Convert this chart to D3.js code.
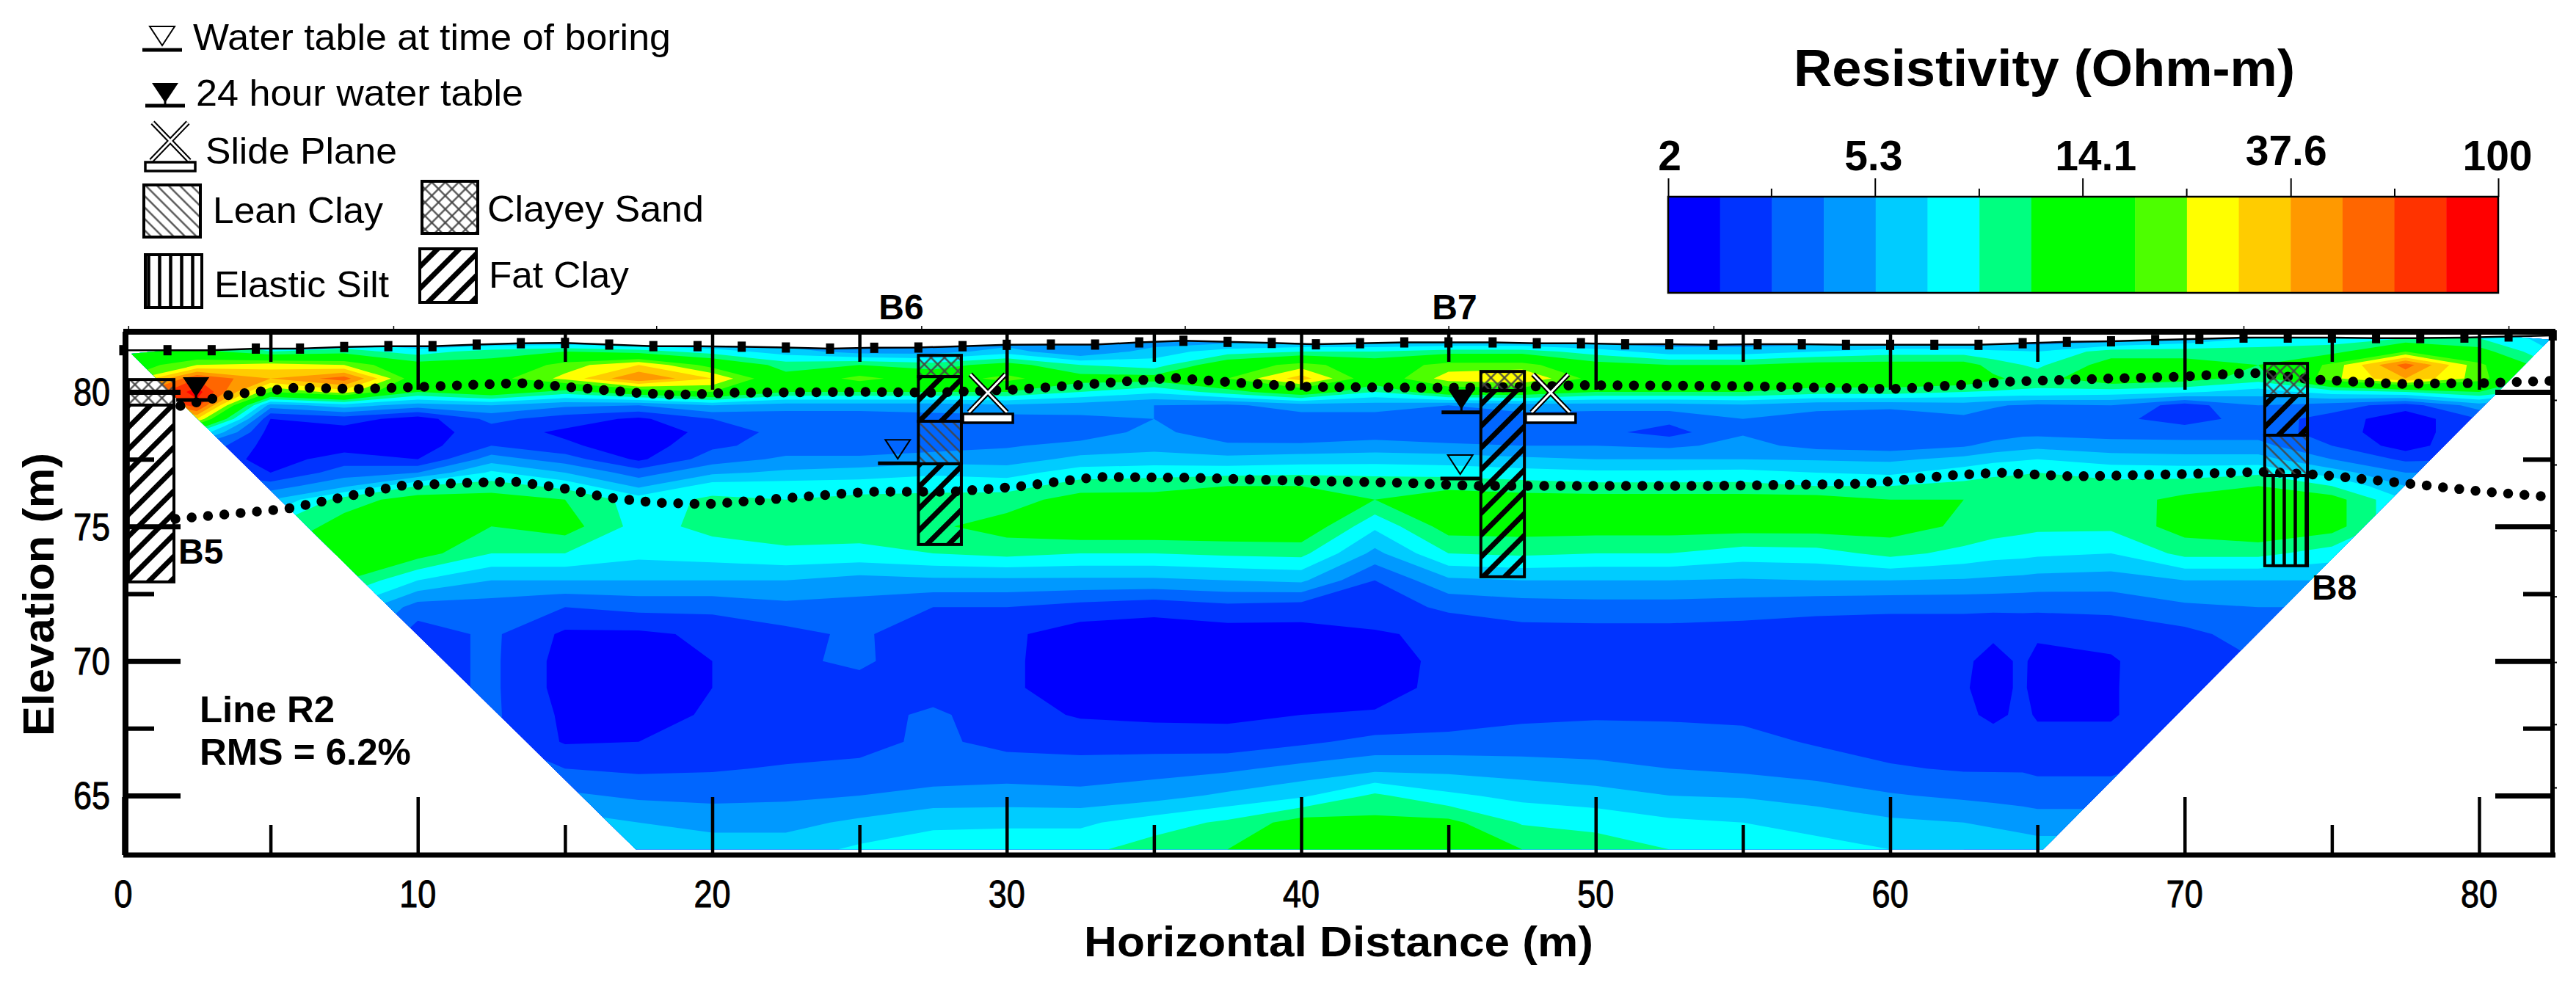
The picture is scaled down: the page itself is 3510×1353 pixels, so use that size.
<!DOCTYPE html>
<html>
<head>
<meta charset="utf-8">
<style>
  body { margin: 0; background: #fff; }
  text { font-family: "Liberation Sans", Arial, sans-serif; fill: #000; }
  .axis .domain { display: none; }
  .axis line { stroke: #000; }
</style>
<script src="https://cdn.jsdelivr.net/npm/d3@7"></script>
</head>
<body>
<svg id="chart" width="3510" height="1353"></svg>
<script>
// band colours of the resistivity scale, low to high
const bandColors = ['#0000ff', '#0033ff', '#0066ff', '#0099ff', '#00ccff', '#00ffff', '#00ff80', '#00ff00',
    '#00ff00', '#4dff00', '#ffff00', '#ffcc00', '#ff9900', '#ff6600', '#ff3300', '#ff0000'];
const scaleLabels = [2, 5.3, 14.1, 37.6, 100];
const scaleMinor = [3.25, 8.65, 23, 61.3];

// section grid, values are band numbers
const gridDistances = [0, 2.5, 5, 7.5, 10, 12.5, 15, 17.5, 20, 22.5, 25, 27.5, 30, 32.5, 35, 37.5, 40, 42.5,
    45, 47.5, 50, 52.5, 55, 57.5, 60, 62.5, 63.5, 64.5, 65, 67.5, 70, 72.5, 75, 77.5, 80, 82.5];
const gridElevations = [82, 81.5, 81, 80.5, 80, 79.5, 79, 78.5, 78, 77.5, 77, 76.5, 76, 75, 74, 73, 72, 71, 70,
    69, 68, 67, 66, 65, 64, 63];
const gridColumns = [
    [6,7.5,8,9,12,11,8,5,3,3,3,4,5,6.5,7,6,5,4,3,2,1,1,2,3,4,5],
    [6,7.5,10,14,15.5,14.5,11,6,3,2,2,3,4,6,7,6,5,4,3,2,1,1,2,3,4,5],
    [4,6,10.5,12,9,3.5,1,.5,.5,.5,1,2.5,4,6,7,6,5,4,3,2,1,1,2,3,4,5],
    [4,6.5,10,13.5,10.5,4.5,1.5,.5,.5,1.5,2.5,3.8,6.5,7.5,7.5,7,5,4,3,2,1,1,2,3,4,5],
    [3,5.5,7.5,8,7,3.5,.5,.5,.5,1,3,6,7.5,7.5,7.5,5,2.5,1.5,1.5,1.5,1.5,1.8,2.5,3.5,4.5,5],
    [3,6.5,7.5,8.5,8,4,2.3,1.5,2,3.5,5.2,6.5,7.5,7,6,4,2.5,2.2,2.2,2.2,2.2,2.2,2.5,3.5,4.5,5],
    [3,7,9.5,10.3,6.5,3.2,1.5,.8,1.2,2.5,4,5.7,7,7.5,6,4,2,.8,.6,.6,.8,.9,2,3.2,4.5,5],
    [3,6.5,11,13,8,3,.8,.4,.4,.8,2.5,3.8,5.5,5.6,5.3,4,2.3,.8,.3,.3,.4,1,1.8,2.8,4,4.5],
    [3,5.5,8.5,11,9,4,2,1.3,1.8,2.5,3.8,5.5,6.2,6.3,5.5,4,2.3,1.2,1,1,1.2,1.5,1.9,2.7,3.7,4.5],
    [3,4.5,6.5,7.5,7,3.5,2.3,2.4,2.4,3.2,4.2,5.5,6,6.5,5.8,4,2.7,1.7,1.8,1.6,1.6,1.5,2.1,2.8,3.7,4.5],
    [3,3.5,7,9.5,7,3.5,2.3,2.5,2.4,3.2,4.5,5.5,6.3,6.5,5.7,3.6,2.6,2.2,2.2,1.6,1.6,1.7,2.2,3,4.2,5.2],
    [3,3.5,6.5,8,7,3.5,2.6,2.4,2.5,3.6,4.8,5.7,6.3,6.8,6,3.8,2,1.2,1.3,1.5,2.2,2.2,2.4,3.3,4.8,5.5],
    [3,4.5,7.5,9.5,7,3.8,2.6,2.6,2.9,3.5,4.6,5.6,6.5,7.5,6.3,3.8,2,1.2,1.2,1.2,1.4,1.7,2.5,3.4,4.8,5.7],
    [3,3,6,7.5,6,3.5,2.8,2.5,3.3,4.3,5.5,6.5,7.5,8,6,3.8,1.6,.5,.4,.4,.9,1.6,2.4,3.3,4.8,5.7],
    [3,4.5,5.5,7.5,5.2,3,3,3.3,3.6,4.5,5.6,6.6,7.5,8,6,3.8,1.3,.5,.3,.3,.8,1.5,2.6,3.6,5.5,6.5],
    [3,5.5,8,9,6.5,2.8,2.3,2.3,3.2,4.3,5.7,7,7.5,8,6.2,4,1.7,.5,.3,.3,.8,1.4,2.8,4.2,6.2,7],
    [3,6,9.5,11.5,8,3.5,2.5,2.2,3.2,4.5,5.8,7,7.5,8,6.3,4.2,1.5,.6,.3,.3,1,1.8,3.3,4.8,7.5,8],
    [3,6,8,8,6,3.5,2.5,2.5,3.4,4.6,5.7,6.8,7,5.2,3.7,2,1.5,.9,.5,.6,1.1,2.3,3.7,6.2,7.3,8],
    [3,6.5,9.5,10.5,8,3,2.5,2.2,3.2,4.5,5.6,6.8,7.5,7.5,6,3.8,2.2,1.2,1.3,1.3,1.5,2.3,3.7,5.2,7.3,8],
    [3,6.5,9.5,11,8,3.5,2.5,2.3,3,4.2,5.4,6.5,7.5,7.5,6.2,4,2.5,1.6,1.2,1.2,1.8,2.4,3.5,4.7,5.9,7],
    [3,5.5,7.5,8.5,7,3.5,2.3,2.3,3,4,5.2,6.3,7.5,7.5,6,4,2.6,1.6,1.3,1.3,1.9,2.4,3.3,4.4,5.7,6.5],
    [3,4.5,7,9,7,3.5,2.3,1.6,2.8,4,5.2,6.3,7.5,7.5,6,4,2.6,1.6,1.3,1.3,1.9,2.3,3,4,5.2,6],
    [3,4.5,7,7.5,7,3.8,3,2.9,3.3,4,5.3,6.3,7.5,7.5,5.5,3.9,2.5,1.5,1.3,1.3,1.8,2.3,2.8,3.9,5,5.8],
    [3,5,7.5,8,6.5,3.3,2.6,2.3,2.7,3.9,5,6,7.5,7.5,5.6,4,2.3,1.4,1.4,1.4,1.4,1.9,2.5,3.6,4.6,5.4],
    [3,5.5,7.5,8,6.5,3.2,2.5,2.3,2.5,3.8,4.8,6,7,7.5,6.3,4,2.2,1.4,1.4,1.3,1.3,1.6,2.1,3.1,4.2,5],
    [3,5.5,7.5,8,6,3.5,2.8,2.3,2.9,4.3,5.5,6.3,7,6.8,5.7,3.9,2.2,1.4,1.2,1.1,1.2,1.4,1.9,2.8,4,5],
    [3,5.2,6.6,7.2,5.9,3.1,2.6,2.5,3.3,4.7,5.8,6.4,6.8,6.5,5.4,3.8,2.2,1.2,.6,.6,.8,1.4,1.9,2.7,3.8,4.8],
    [3,5.1,6,6.7,5.8,2.9,2.5,2.7,3.6,4.9,5.9,6.5,6.6,6.3,5.3,3.7,2.2,1.3,1.2,1.2,1.2,1.4,1.9,2.6,3.6,4.6],
    [3,5,5.8,6.5,5.8,2.8,2.5,2.7,3.7,5,6,6.5,6.5,6.2,5.2,3.6,2.2,1.2,.6,.5,.9,1.3,1.8,2.5,3.5,4.5],
    [3,6.5,7.5,8,5.5,3,2.3,2.6,3.4,4.5,5.7,6.3,6.5,6.2,5,3.5,2.3,1.3,.9,.9,.9,1.3,1.8,2.5,3.5,4.5],
    [4,6.5,7.5,7.5,5.2,1.5,1.5,2.6,3.3,4.4,5.6,6.5,7.3,7.5,6.3,4,2.8,1.7,1.7,1.8,1.8,2,2.5,3,4,5],
    [5,6.5,7,6.5,4.5,3,2.5,2.6,3.3,4.4,5.8,7,7.8,8,6.3,4,3,2.5,2,2,2,2,2.5,3,4,5],
    [5.5,6.5,9.3,9.7,5.5,2.5,1.6,1.5,2,3,4.5,6,7.5,7.5,5.5,4,3,2.5,2,2,2,2,2.5,3,4,5],
    [6,9,13.5,12,6,1.5,.3,.3,.5,1.8,3,4,5,5,5,4,3,2.5,2,2,2,2,2.5,3,4,5],
    [6,7.5,9.3,9.5,7,3.5,2,2,2,2,3,4,5,5,5,4,3,2.5,2,2,2,2,2.5,3,4,5],
    [4.5,5,6,6,5,3,2,2,2,2,3,4,5,5,5,4,3,2.5,2,2,2,2,2.5,3,4,5]
];

// ground surface, one elevation per electrode, every 1.5 m
const electrodeDistances = d3.range(0, 83, 1.5);
const electrodeElevations = [81.55, 81.55, 81.55, 81.61, 81.61, 81.67, 81.7, 81.7, 81.76, 81.81, 81.82, 81.76, 81.7, 81.7,
    81.68, 81.65, 81.61, 81.64, 81.65, 81.7, 81.75, 81.76, 81.76, 81.84, 81.9, 81.86, 81.82, 81.77, 81.81, 81.84,
    81.84, 81.84, 81.81, 81.81, 81.77, 81.77, 81.75, 81.77, 81.77, 81.75, 81.75, 81.75, 81.75, 81.81, 81.86, 81.88,
    81.93, 81.97, 82.02, 82.02, 82.02, 82, 82, 82.02, 82.06, 82.1];

// dotted interfaces, [distance, elevation]
const upperInterface = [[1.94, 79.48], [3.61, 79.89], [5.86, 80.16], [8.1, 80.11], [10.14, 80.19], [13.48, 80.33],
    [15.35, 80.16], [17.4, 79.97], [18.69, 79.89], [20.73, 79.97], [25.15, 80], [27.39, 79.97], [30.18, 80.08],
    [32.4, 80.25], [34.64, 80.44], [35.71, 80.52], [37.98, 80.33], [40.12, 80.19], [43.56, 80.16], [46.36, 80.16],
    [49.52, 80.25], [54.5, 80.22], [60.09, 80.11], [62.3, 80.25], [63.98, 80.38], [66.2, 80.46], [69.93, 80.57],
    [72.27, 80.71], [74.39, 80.46], [77.18, 80.3], [80.17, 80.33], [82.39, 80.41]];
const lowerInterface = [[1.77, 75.28], [5.58, 75.66], [7.73, 76.15], [9.4, 76.51], [11.61, 76.62], [13.28, 76.67],
    [14.88, 76.43], [16.45, 76.07], [18.14, 75.88], [19.81, 75.83], [21.48, 75.96], [24.27, 76.21], [25.35, 76.29],
    [28.14, 76.29], [30.36, 76.48], [33.07, 76.84], [36.41, 76.81], [39.75, 76.7], [43.56, 76.62], [45.81, 76.51],
    [54.13, 76.51], [59.14, 76.59], [61.93, 76.89], [63.63, 77], [66.22, 76.86], [69.01, 76.92], [72.72, 77.03],
    [74.59, 76.92], [77.38, 76.62], [80.17, 76.29], [82.39, 76.1]];

// borings: from/to distance, then layers [top elevation, bottom elevation, soil]
const boringNames = ['B5', 'B6', 'B7', 'B8'];
const boringLeft = [0.17, 27, 46.1, 72.72];
const boringRight = [1.72, 28.46, 47.58, 74.17];
const boringLayers = [
    [[80.46, 79.51, 'sand'], [79.51, 72.94, 'fat']],
    [[81.36, 80.57, 'sand'], [80.57, 78.91, 'fat'], [78.91, 77.33, 'lean'], [77.33, 74.33, 'fat']],
    [[80.76, 80.05, 'sand'], [80.05, 73.13, 'fat']],
    [[81.06, 79.86, 'sand'], [79.86, 78.39, 'fat'], [78.39, 76.89, 'lean'], [76.89, 73.54, 'silt']]
];
const waterAtBoring = [[26.3, 77.35], [45.4, 76.78]];
const water24Hour = [[2.47, 79.7], [45.44, 79.24]];
const slidePlanes = [[29.36, 79.21], [48.47, 79.21]];

const xMajor = [0, 10, 20, 30, 40, 50, 60, 70, 80];
const xMinor = [5, 15, 25, 35, 45, 55, 65, 75];
const yMajor = [65, 70, 75, 80];
const yMinor = [67.5, 72.5, 77.5];
const topOuterTicks = [0.17, 9.17, 18.1, 27.1, 36.05, 45, 54, 63, 72, 81];
const rightOuterTicks = [79.7, 77.3, 74.85, 72.4, 69.96, 67.65, 65.3];

const legendSwatches = [
    ['lean', 'Lean Clay', 196, 252, 77, 71, 290, 304, 232],
    ['sand', 'Clayey Sand', 575, 247, 76, 71, 664, 302, 295],
    ['silt', 'Elastic Silt', 198, 347, 77, 72, 292, 405, 238],
    ['fat', 'Fat Clay', 572, 339, 77, 73, 666, 392, 191]
];

const svg = d3.select('#chart');
const defs = svg.append('defs');

const x = d3.scaleLinear().domain([0, 80]).range([168, 3378]);
const y = d3.scaleLinear().domain([80, 65]).range([534, 1084]);
const frame = { left: 172, right: 3478, top: 452, bottom: 1165 };

const addText = (parent, str, px, py, size, weight, length) => {
    const t = parent.append('text').attr('x', px).attr('y', py)
        .attr('font-size', size).attr('font-weight', weight || 'normal').text(str);
    if (length) t.attr('textLength', length).attr('lengthAdjust', 'spacingAndGlyphs');
    return t;
};

// soil hatches
const hatch = (id, size, angle, stroke, width, cross) => {
    const p = defs.append('pattern').attr('id', id).attr('patternUnits', 'userSpaceOnUse')
        .attr('width', size).attr('height', size).attr('patternTransform', `rotate(${angle})`);
    p.append('line').attr('x1', size / 2).attr('x2', size / 2).attr('y1', 0).attr('y2', size)
        .attr('stroke', stroke).attr('stroke-width', width);
    if (cross) p.append('line').attr('x1', 0).attr('x2', size).attr('y1', size / 2).attr('y2', size / 2)
        .attr('stroke', stroke).attr('stroke-width', width);
};
hatch('fat', 21, 45, '#000', 7);
hatch('lean', 11, -45, '#444', 2.2);
hatch('sand', 13, 45, '#444', 2.2, true);
hatch('silt', 15, 0, '#000', 4.5);

// clip the field to the trapezoid under the ground surface
const outline = [[0.27, 81.42], [17.4, 63], [65.2, 63], [82.4, 81.94]]
    .concat(electrodeDistances.map((d, i) => [d, electrodeElevations[i]]).reverse().filter(d => d[0] >= 0.27 && d[0] <= 82.4));
defs.append('clipPath').attr('id', 'fieldClip').append('path')
    .attr('d', d3.line().x(d => x(d[0])).y(d => y(d[1]))(outline) + 'Z');

// filled contours of the grid
const nx = gridDistances.length, ny = gridElevations.length;
const gridValues = [];
gridElevations.forEach((e, j) => gridDistances.forEach((d, i) => gridValues.push(gridColumns[i][j])));
const gridX = d3.scaleLinear().domain(gridDistances.map((d, i) => i + 0.5)).range(gridDistances);
const gridY = d3.scaleLinear().domain(gridElevations.map((d, i) => i + 0.5)).range(gridElevations);
const gridPath = d3.geoPath(d3.geoTransform({
    point(px, py) { this.stream.point(x(gridX(px)), y(gridY(py))); }
}));
const contours = d3.contours().size([nx, ny]).thresholds(d3.range(16))(gridValues);
svg.append('g').attr('clip-path', 'url(#fieldClip)')
    .selectAll('path').data(contours).join('path')
    .attr('d', gridPath)
    .attr('fill', d => bandColors[d.value]);

// ground line and electrodes
svg.append('path')
    .attr('d', d3.line().x((d, i) => x(d)).y((d, i) => y(electrodeElevations[i]))(electrodeDistances))
    .attr('fill', 'none').attr('stroke', '#000').attr('stroke-width', 2.5);
svg.append('g').selectAll('rect').data(electrodeDistances).join('rect')
    .attr('x', d => x(d) - 5.5)
    .attr('y', (d, i) => y(electrodeElevations[i]) - 7)
    .attr('width', 11).attr('height', 14).attr('fill', '#000');

// dotted interfaces
const xyLine = d3.line().x(d => x(d[0])).y(d => y(d[1]));
svg.append('g').selectAll('path').data([upperInterface, lowerInterface]).join('path')
    .attr('d', xyLine)
    .attr('fill', 'none').attr('stroke', '#000')
    .attr('stroke-width', 13.5).attr('stroke-linecap', 'round').attr('stroke-dasharray', '0 22.3');

// borings
boringNames.forEach((name, b) => {
    const g = svg.append('g');
    const layers = boringLayers[b];
    g.selectAll('rect').data(layers).join('rect')
        .attr('x', x(boringLeft[b])).attr('width', x(boringRight[b]) - x(boringLeft[b]))
        .attr('y', d => y(d[0])).attr('height', d => y(d[1]) - y(d[0]))
        .attr('fill', d => `url(#${d[2]})`)
        .attr('stroke', '#000').attr('stroke-width', 4);
});
addText(svg, 'B5', 243, 768, 48, 'bold');
addText(svg, 'B6', 1228, 435, 48, 'bold').attr('text-anchor', 'middle');
addText(svg, 'B7', 1982, 435, 48, 'bold').attr('text-anchor', 'middle');
addText(svg, 'B8', 3150, 817, 48, 'bold');

// water table and slide plane symbols
const drawOpenWater = (parent, px, py) => {
    parent.append('path').attr('d', `M${px - 17},${py - 32}H${px + 17}L${px},${py - 6}Z`)
        .attr('fill', 'none').attr('stroke', '#000').attr('stroke-width', 2);
    parent.append('line').attr('x1', px - 27).attr('x2', px + 27).attr('y1', py).attr('y2', py)
        .attr('stroke', '#000').attr('stroke-width', 5);
};
const drawSolidWater = (parent, px, py) => {
    parent.append('path').attr('d', `M${px - 18},${py - 31}H${px + 18}L${px},${py - 4}Z`).attr('fill', '#000');
    parent.append('line').attr('x1', px).attr('x2', px).attr('y1', py - 8).attr('y2', py)
        .attr('stroke', '#000').attr('stroke-width', 3);
    parent.append('line').attr('x1', px - 27).attr('x2', px + 27).attr('y1', py).attr('y2', py)
        .attr('stroke', '#000').attr('stroke-width', 5);
};
const drawSlide = (parent, px, py) => {
    const arms = `M${px - 26},${py - 1}L${px + 24},${py - 53}M${px + 26},${py - 1}L${px - 24},${py - 53}`;
    parent.append('path').attr('d', arms).attr('fill', 'none').attr('stroke', '#000').attr('stroke-width', 7);
    parent.append('path').attr('d', arms).attr('fill', 'none').attr('stroke', '#fff').attr('stroke-width', 3);
    parent.append('rect').attr('x', px - 34).attr('y', py + 1).attr('width', 68).attr('height', 12)
        .attr('fill', '#fff').attr('stroke', '#000').attr('stroke-width', 3.5);
};
waterAtBoring.forEach(d => drawOpenWater(svg, x(d[0]), y(d[1])));
water24Hour.forEach(d => drawSolidWater(svg, x(d[0]), y(d[1])));
slidePlanes.forEach(d => drawSlide(svg, x(d[0]), y(d[1])));

// frame and axes
const frameLine = (x1, y1, x2, y2, w) => svg.append('line').attr('x1', x1).attr('y1', y1).attr('x2', x2).attr('y2', y2)
    .attr('stroke', '#000').attr('stroke-width', w);
frameLine(frame.left - 4, frame.top, frame.right + 4, frame.top, 8);
frameLine(frame.left - 4, frame.bottom, frame.right + 4, frame.bottom, 7);
frameLine(frame.left - 1, frame.top, frame.left - 1, frame.bottom, 8);
frameLine(frame.right, frame.top, frame.right, frame.bottom, 6);

const axisGroup = (tx, ty, axis, width) => svg.append('g').attr('class', 'axis')
    .attr('transform', `translate(${tx},${ty})`).call(axis)
    .call(g => g.selectAll('line').attr('stroke-width', width))
    .call(g => g.selectAll('text').remove());

axisGroup(0, frame.bottom, d3.axisBottom(x).tickValues(xMajor).tickSize(-79), 4.5);
axisGroup(0, frame.bottom, d3.axisBottom(x).tickValues(xMinor).tickSize(-41), 4.5);
axisGroup(0, frame.top, d3.axisTop(x).tickValues(xMajor.slice(1)).tickSize(-79), 4.5);
axisGroup(0, frame.top, d3.axisTop(x).tickValues(xMinor).tickSize(-41), 4.5);
axisGroup(0, frame.top, d3.axisTop(x).tickValues(topOuterTicks).tickSize(8), 1.5);
axisGroup(frame.left, 0, d3.axisLeft(y).tickValues(yMajor).tickSize(-74), 7);
axisGroup(frame.left, 0, d3.axisLeft(y).tickValues(yMinor).tickSize(-38), 6);
axisGroup(frame.right, 0, d3.axisRight(y).tickValues(yMajor).tickSize(-78), 7);
axisGroup(frame.right, 0, d3.axisRight(y).tickValues(yMinor).tickSize(-40), 6);
axisGroup(frame.right, 0, d3.axisRight(y).tickValues(rightOuterTicks).tickSize(6), 2);

// tick labels, narrowed and slightly thickened like the source
const tickLabelStyle = sel => sel
    .attr('font-size', 51).attr('stroke', '#000').attr('stroke-width', 1)
    .attr('lengthAdjust', 'spacingAndGlyphs')
    .attr('textLength', d => String(d).length * 25);
svg.append('g').selectAll('text').data(xMajor).join('text')
    .attr('x', d => x(d)).attr('y', 1236)
    .attr('text-anchor', 'middle').text(d => d)
    .call(tickLabelStyle);
svg.append('g').selectAll('text').data(yMajor).join('text')
    .attr('x', 150).attr('y', d => y(d)).attr('dy', '0.36em')
    .attr('text-anchor', 'end').text(d => d)
    .call(tickLabelStyle);

addText(svg, 'Horizontal Distance (m)', 1477, 1303, 58, 'bold', 694);
svg.append('text').attr('transform', 'translate(73,1003) rotate(-90)')
    .attr('font-size', 60).attr('font-weight', 'bold')
    .attr('textLength', 386).attr('lengthAdjust', 'spacingAndGlyphs').text('Elevation (m)');
addText(svg, 'Line R2', 272, 984, 50, 'bold', 184);
addText(svg, 'RMS = 6.2%', 272, 1042, 50, 'bold', 288);

// legend
const legend = svg.append('g');
drawOpenWater(legend, 221, 68);
addText(legend, 'Water table at time of boring', 263, 68, 50, 'normal', 651);
drawSolidWater(legend, 225, 144);
addText(legend, '24 hour water table', 267, 144, 50, 'normal', 446);
drawSlide(legend, 232, 220);
addText(legend, 'Slide Plane', 280, 223, 50, 'normal', 261);
legendSwatches.forEach(d => {
    legend.append('rect').attr('x', d[2]).attr('y', d[3]).attr('width', d[4]).attr('height', d[5])
        .attr('fill', `url(#${d[0]})`).attr('stroke', '#000').attr('stroke-width', 4);
    addText(legend, d[1], d[6], d[7], 50, 'normal', d[8]);
});

// colour scale
const scaleX = d3.scaleLog().domain([2, 100]).range([2273, 3404]);
const scaleBands = d3.scaleBand().domain(d3.range(16)).range([2273, 3404]);
const scaleTop = 268, scaleBottom = 399;
svg.append('g').selectAll('rect').data(bandColors).join('rect')
    .attr('x', (d, i) => scaleBands(i)).attr('y', scaleTop)
    .attr('width', scaleBands.bandwidth() + 0.5).attr('height', scaleBottom - scaleTop)
    .attr('fill', d => d);
svg.append('rect').attr('x', 2273).attr('y', scaleTop).attr('width', 1131).attr('height', scaleBottom - scaleTop)
    .attr('fill', 'none').attr('stroke', '#000').attr('stroke-width', 2.5);
axisGroup(0, scaleTop, d3.axisTop(scaleX).tickValues(scaleLabels).tickSize(25), 2);
axisGroup(0, scaleTop, d3.axisTop(scaleX).tickValues(scaleMinor).tickSize(11), 2);

const scaleLabelDx = [2, -2, 18, -6, -1];
const scaleLabelY = [232, 232, 232, 225, 232];
svg.append('g').selectAll('text').data(scaleLabels).join('text')
    .attr('x', (d, i) => scaleX(d) + scaleLabelDx[i]).attr('y', (d, i) => scaleLabelY[i])
    .attr('text-anchor', 'middle').attr('font-size', 57).attr('font-weight', 'bold').text(d => d);
addText(svg, 'Resistivity (Ohm-m)', 2444, 117, 70, 'bold', 683);
</script>
</body>
</html>
